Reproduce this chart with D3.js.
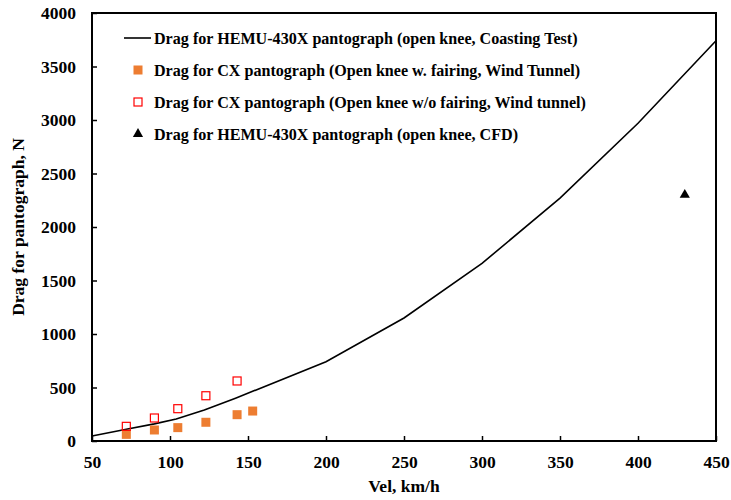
<!DOCTYPE html>
<html><head><meta charset="utf-8">
<script src="https://cdn.jsdelivr.net/npm/d3@7"></script>
<style>body{margin:0;background:#fff}svg{display:block}text{font-family:"Liberation Serif","Times New Roman",serif;font-weight:bold}</style>
</head><body>
<svg id="c" width="731" height="500"></svg>
<script>
const xTicks=[50,100,150,200,250,300,350,400,450];
const yTicks=[0,500,1000,1500,2000,2500,3000,3500,4000];
const coastVel=[50,72,90,104,122,142,200,250,300,350,400,450];
const coastDrag=[47,110,160,205,290,400,740,1150,1660,2270,2970,3740];
const fairVel=[72,90,105,123,143,153];
const fairDrag=[62,103,125,175,246,280];
const noFairVel=[72,90,105,123,143];
const noFairDrag=[137,215,302,423,561];
const cfdVel=[430];
const cfdDrag=[2300];
const legendLabels=["Drag for HEMU-430X pantograph (open knee, Coasting Test)","Drag for CX pantograph (Open knee w. fairing, Wind Tunnel)","Drag for CX pantograph (Open knee w/o fairing, Wind tunnel)","Drag for HEMU-430X pantograph (open knee, CFD)"];

const svg=d3.select("#c");
const L=92,R=716,T=13,B=441;
const x=d3.scaleLinear().domain([50,450]).range([L,R]);
const y=d3.scaleLinear().domain([0,4000]).range([B,T]);
const fmt=d3.format("d");

// axes
const xa=svg.append("g").attr("transform",`translate(0,${B})`)
 .call(d3.axisBottom(x).tickValues(xTicks).tickFormat(fmt).tickSizeInner(-5).tickSizeOuter(0).tickPadding(15));
const ya=svg.append("g").attr("transform",`translate(${L},0)`)
 .call(d3.axisLeft(y).tickValues(yTicks).tickFormat(fmt).tickSizeInner(-5).tickSizeOuter(0).tickPadding(16));
[xa,ya].forEach(a=>{a.select(".domain").remove();a.selectAll("line").attr("stroke","#000").attr("stroke-width",1.5);
 a.selectAll("text").attr("font-size",17.5).attr("fill","#000").style("font-family",'"Liberation Serif",serif').style("font-weight","bold");});
svg.append("rect").attr("x",L).attr("y",T).attr("width",R-L).attr("height",B-T).attr("fill","none").attr("stroke","#000").attr("stroke-width",2);

// line
svg.append("path").datum(coastVel.map((v,i)=>[v,coastDrag[i]]))
 .attr("d",d3.line().x(d=>x(d[0])).y(d=>y(d[1]))).attr("fill","none").attr("stroke","#000").attr("stroke-width",1.6);

const s=9;
svg.selectAll(".f").data(fairVel.map((v,i)=>[v,fairDrag[i]])).enter().append("rect")
 .attr("x",d=>x(d[0])-s/2).attr("y",d=>y(d[1])-s/2).attr("width",s).attr("height",s).attr("fill","#ED7D31");
svg.selectAll(".o").data(noFairVel.map((v,i)=>[v,noFairDrag[i]])).enter().append("rect")
 .attr("x",d=>x(d[0])-s/2+0.5).attr("y",d=>y(d[1])-s/2+0.5).attr("width",s-1).attr("height",s-1).attr("fill","none").attr("stroke","#FF0000").attr("stroke-width",1.2);
const tri=d3.symbol().type(d3.symbolTriangle).size(45);
svg.selectAll(".t").data(cfdVel.map((v,i)=>[v,cfdDrag[i]])).enter().append("path")
 .attr("d",tri).attr("transform",d=>`translate(${x(d[0])},${y(d[1])})`).attr("fill","#000");

// legend
const ly=[38,70,102,134];
legendLabels.forEach((t,i)=>{
 svg.append("text").attr("x",154).attr("y",ly[i]+5.5).attr("font-size",16.1).attr("fill","#000").text(t);
});
svg.append("line").attr("x1",124).attr("x2",151).attr("y1",ly[0]).attr("y2",ly[0]).attr("stroke","#000").attr("stroke-width",1.6);
svg.append("rect").attr("x",138-4.5).attr("y",ly[1]-4.5).attr("width",9).attr("height",9).attr("fill","#ED7D31");
svg.append("rect").attr("x",138-4).attr("y",ly[2]-4).attr("width",8).attr("height",8).attr("fill","none").attr("stroke","#FF0000").attr("stroke-width",1.2);
svg.append("path").attr("d",tri).attr("transform",`translate(138,${ly[3]})`).attr("fill","#000");

// titles
svg.append("text").attr("x",(L+R)/2).attr("y",492).attr("text-anchor","middle").attr("font-size",17.5).text("Vel, km/h");
svg.append("text").attr("transform",`translate(24,${(T+B)/2}) rotate(-90)`).attr("text-anchor","middle").attr("font-size",17.5).text("Drag for pantograph, N");
</script>
</body></html>
